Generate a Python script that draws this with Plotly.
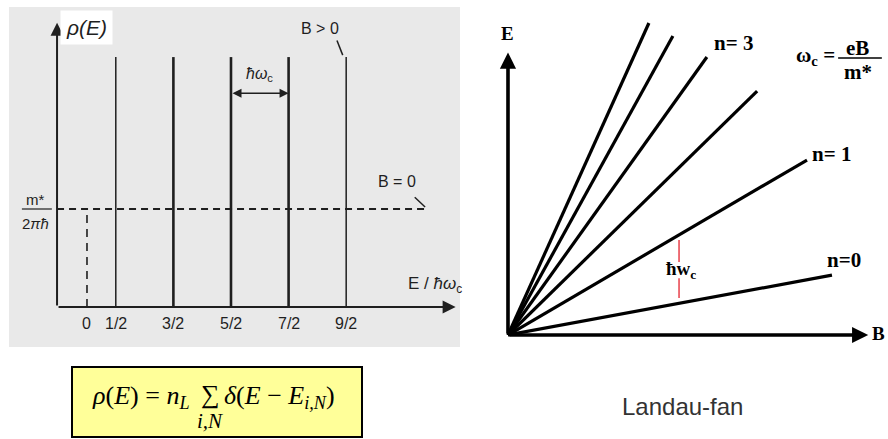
"""Densidad de estados en campo magnético y abanico de Landau."""

import plotly.graph_objects as go

# --- datos (panel izquierdo, E en unidades de ħω_c) ---
level_x = [0.5, 1.5, 2.5, 3.5, 4.5]          # niveles de Landau (B > 0)
level_top = 2.55                              # altura de las deltas
tick_x = [0, 0.5, 1.5, 2.5, 3.5, 4.5]
tick_text = ["0", "1/2", "3/2", "5/2", "7/2", "9/2"]
dos_b0 = 1.0                                  # m*/2πħ (B = 0)
dos_b0_x = [-0.52, 5.92]

# --- datos (panel derecho, abanico de Landau) ---
fan_n = [0, 1, 2, 3, 4, 5]
fan_b_end = [10.0, 9.23, 7.69, 6.14, 5.09, 4.35]
fan_e_end = [1.85, 5.40, 7.53, 8.58, 9.23, 9.63]
fan_label_text = ["n=0", "n= 1", "n= 3"]
fan_label_b = [9.78, 9.32, 6.30]
fan_label_e = [2.31, 5.59, 9.01]

INK = "#1f1f1f"
SERIF = "Liberation Serif, DejaVu Serif, serif"
SANS = "Liberation Sans, Arial, sans-serif"

W, H = 888, 439


def px(x):
    return x / W


def py(y):
    return 1 - y / H


fig = go.Figure()

# ---------- panel izquierdo ----------
widths = [1.5, 2.6, 2.6, 2.6, 1.5]
for xv, w in zip(level_x, widths):
    fig.add_trace(go.Scatter(x=[xv, xv], y=[0, level_top], mode="lines",
                             line=dict(color=INK, width=w), xaxis="x", yaxis="y"))

fig.add_trace(go.Scatter(x=dos_b0_x, y=[dos_b0, dos_b0], mode="lines",
                         line=dict(color=INK, width=2, dash="7px,5px"),
                         xaxis="x", yaxis="y"))
fig.add_trace(go.Scatter(x=[0, 0], y=[0, dos_b0], mode="lines",
                         line=dict(color=INK, width=1.6, dash="8px,6px"),
                         xaxis="x", yaxis="y"))
# líneas guía de las etiquetas B > 0 y B = 0
fig.add_trace(go.Scatter(x=[4.34, 4.44], y=[2.72, 2.57], mode="lines",
                         line=dict(color=INK, width=1.5), xaxis="x", yaxis="y"))
fig.add_trace(go.Scatter(x=[5.69, 5.87], y=[1.12, 1.02], mode="lines",
                         line=dict(color=INK, width=1.5), xaxis="x", yaxis="y"))
# raya de fracción m*/2πħ
fig.add_trace(go.Scatter(x=[-1.13, -0.61], y=[dos_b0, dos_b0], mode="lines",
                         line=dict(color=INK, width=1.2), xaxis="x", yaxis="y"))

# ---------- panel derecho ----------
for n, b, e in zip(fan_n, fan_b_end, fan_e_end):
    fig.add_trace(go.Scatter(x=[0, b], y=[0, e], mode="lines",
                             line=dict(color="black", width=3.2), xaxis="x2", yaxis="y2"))
# separación ħω_c entre n=0 y n=1
fig.add_trace(go.Scatter(x=[5.28, 5.28, None, 5.28, 5.28], y=[2.93, 2.25, None, 1.75, 1.14],
                         mode="lines", line=dict(color="#e8404a", width=1.5),
                         xaxis="x2", yaxis="y2"))
# raya de fracción eB/m*
fig.add_trace(go.Scatter(x=[10.19, 11.54], y=[8.55, 8.55], mode="lines",
                         line=dict(color="black", width=1.6), xaxis="x2", yaxis="y2"))

ann = []


def label(x, y, text, size, family=SANS, color=INK, ref="", **kw):
    ann.append(dict(x=x, y=y, text=text, xref="x" + ref, yref="y" + ref, showarrow=False,
                    font=dict(size=size, family=family, color=color), **kw))


def arrow(x, y, ax, ay, width, color, ref="", **kw):
    ann.append(dict(x=x, y=y, ax=ax, ay=ay, xref="x" + ref, yref="y" + ref,
                    axref="x" + ref, ayref="y" + ref, text="", showarrow=True,
                    arrowhead=2, arrowwidth=width, arrowcolor=color, standoff=0, **kw))


def paper_label(x, y, text, size, **kw):
    opts = dict(xanchor="center", yanchor="middle")
    opts.update(kw)
    ann.append(dict(x=px(x), y=py(y), xref="paper", yref="paper", showarrow=False, text=text,
                    font=dict(size=size, family=SERIF, color="black"), **opts))


# ejes izquierdos
arrow(-0.52, 2.9, -0.52, 0, 2, INK, arrowsize=1.3)
arrow(6.4, 0, -0.52, 0, 2, INK, arrowsize=1.3)
arrow(3.5, 2.18, 2.5, 2.18, 1.5, INK, arrowside="end+start", arrowsize=1.2)

label(0.0, 2.85, "<i>ρ(E)</i>", 21, bgcolor="white", borderpad=5)
label(4.05, 2.84, "B &gt; 0", 16)
label(3.0, 2.37, "<i>ħω</i><sub>c</sub>", 16)
label(5.38, 1.28, "B = 0", 16)
label(-0.9, 1.10, "m*", 15)
label(-0.9, 0.85, "2<i>πħ</i>", 15)
label(6.04, 0.22, "E / <i>ħω</i><sub>c</sub>", 17)
for xv, t in zip(tick_x, tick_text):
    label(xv, -0.165, t, 16)

# ejes derechos
arrow(0, 8.72, 0, 0, 3.6, "black", ref="2", arrowsize=0.9)
arrow(11.12, 0, 0, 0, 3.6, "black", ref="2", arrowsize=0.9)
label(-0.03, 9.3, "<b>E</b>", 19, SERIF, "black", ref="2")
label(11.45, 0.06, "<b>B</b>", 19, SERIF, "black", ref="2")
for t, b, e in zip(fan_label_text, fan_label_b, fan_label_e):
    label(b, e, "<b>%s</b>" % t, 21, SERIF, "black", ref="2", xanchor="left")
label(10.17, 8.62, "<b>ω<sub>c</sub> =</b>", 21, SERIF, "black", ref="2", xanchor="right")
label(10.80, 8.86, "<b>eB</b>", 21, SERIF, "black", ref="2")
label(10.80, 8.12, "<b>m*</b>", 21, SERIF, "black", ref="2")
label(5.33, 2.0, "<b>ħw<sub>c</sub></b>", 19, SERIF, "black", ref="2")
label(5.40, -2.22, "Landau-fan", 24, SANS, "#333333", ref="2")

# fórmula dentro del recuadro amarillo
paper_label(192, 397, "<i>ρ</i>(<i>E</i>) = <i>n</i><sub><i>L</i></sub>", 26, xanchor="right")
paper_label(210, 394, "∑", 26)
paper_label(222, 397, "<i>δ</i>(<i>E</i> − <i>E</i><sub><i>i,N</i></sub>)", 26, xanchor="left")
paper_label(210, 421, "<i>i,N</i>", 21)

fig.update_layout(
    width=W,
    height=H,
    margin=dict(l=0, r=0, t=0, b=0),
    paper_bgcolor="white",
    plot_bgcolor="white",
    showlegend=False,
    xaxis=dict(domain=[px(9), px(460)], range=[-1.354, 6.476], visible=False),
    yaxis=dict(domain=[py(347), py(7)], range=[-0.408, 3.061], visible=False),
    xaxis2=dict(domain=[px(480), 1], range=[-0.864, 11.73], visible=False, anchor="y2"),
    yaxis2=dict(domain=[0, 1], range=[-3.21, 10.34], visible=False, anchor="x2"),
    annotations=ann,
    shapes=[
        dict(type="rect", xref="x domain", yref="y domain", x0=0, x1=1, y0=0, y1=1,
             fillcolor="#e9e9e9", line=dict(width=0), layer="below"),
        dict(type="rect", xref="paper", yref="paper", x0=px(72), x1=px(362),
             y0=py(437), y1=py(367), fillcolor="#ffff99",
             line=dict(color="black", width=2), layer="below"),
    ],
)

# sin margen en el body para que la figura ocupe exactamente la ventana
fig.write_html("out.html", config={"displayModeBar": False},
               post_script="document.body.style.margin='0';"
                           "document.documentElement.style.overflow='hidden';")
